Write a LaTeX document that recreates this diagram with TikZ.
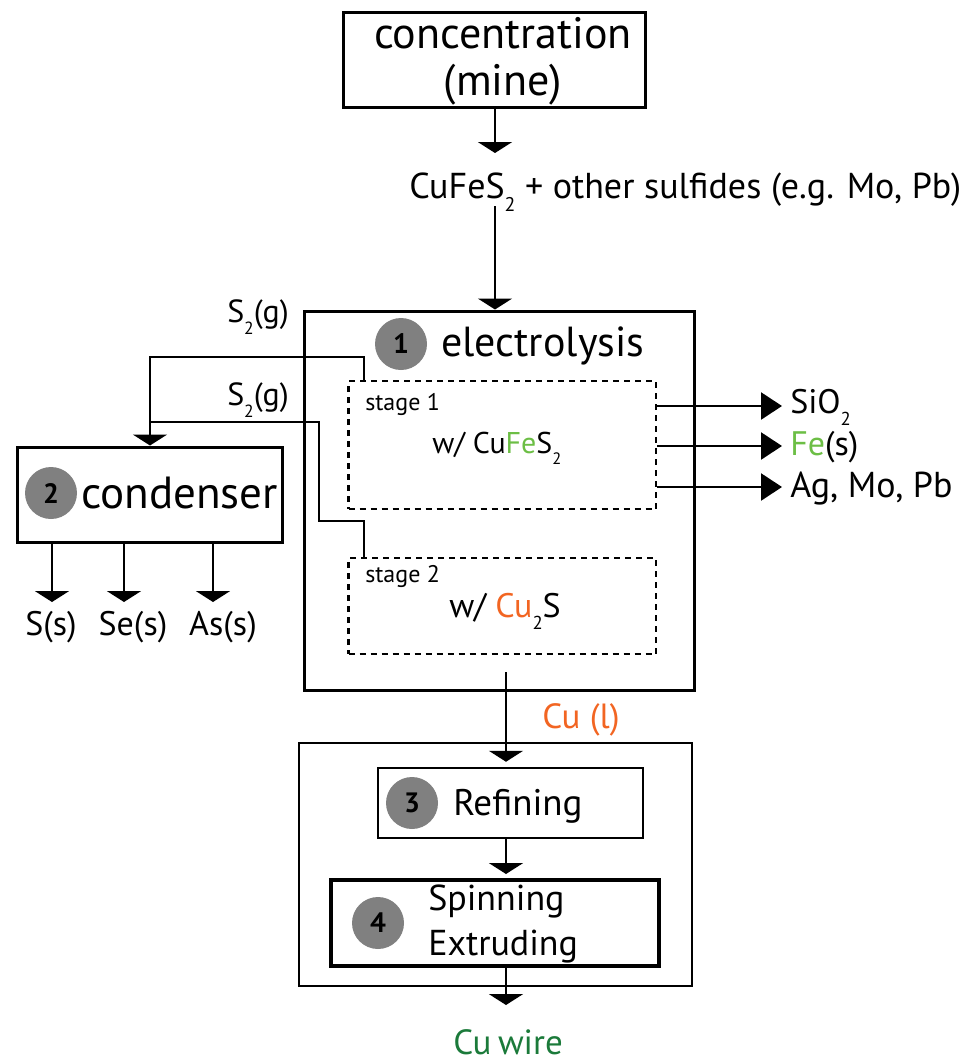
\documentclass[tikz,border=0pt]{standalone}
\usepackage{fontspec}
\setmainfont{PT Sans}
\usetikzlibrary{arrows.meta}
\definecolor{cuorange}{RGB}{242,101,34}
\definecolor{fegreen}{RGB}{108,190,69}
\definecolor{wiregreen}{RGB}{27,122,58}
\definecolor{badgegray}{RGB}{128,128,128}
\makeatletter
\newcommand\dn[1]{\raisebox{-0.38em}{\fontsize{\dimexpr\f@size pt*55/100\relax}{1pt}\selectfont #1}}
\makeatother
\newcommand\fsz[1]{\fontsize{#1}{#1}\selectfont}
\begin{document}
\begin{tikzpicture}[x=1pt,y=-1pt,line width=2.5pt,
  arr/.style={-{Triangle[width=34pt,length=11pt]}},
  arrR/.style={-{Triangle[width=27pt,length=21pt]}},
  boxnode/.style={draw,inner sep=0pt},
  dashbox/.style={draw,inner sep=0pt,line width=2.5pt,dash pattern=on 6pt off 5pt},
  badge/.style={circle,fill=badgegray,minimum size=52pt,inner sep=0pt,font=\fsz{28}\bfseries},
  txt/.style={inner sep=0pt,anchor=base west}]
\useasboundingbox (0,0) rectangle (974,1063);

% boxes
\node[boxnode,line width=3pt,minimum width=302pt,minimum height=95pt] (conc) at (494,59.5) {};
\node[boxnode,line width=3pt,minimum width=390pt,minimum height=379pt] (elec) at (499,500.5) {};
\node[dashbox,minimum width=307.5pt,minimum height=128pt] (stage1) at (502.25,445) {};
\node[dashbox,minimum width=307.5pt,minimum height=96pt] (stage2) at (502.25,606) {};
\node[boxnode,line width=3pt,minimum width=265pt,minimum height=95pt] (cond) at (150,494.5) {};
\node[boxnode,line width=2pt,minimum width=393pt,minimum height=243pt] (proc) at (495.5,864.5) {};
\node[boxnode,line width=2.5pt,minimum width=265pt,minimum height=70pt] (refine) at (510.5,803) {};
\node[boxnode,line width=4pt,minimum width=328pt,minimum height=86pt] (spin) at (495,923) {};

% badges
\node[badge] (n1) at (401,344) {1};
\node[badge] (n2) at (51,493) {2};
\node[badge] (n3) at (412,803) {3};
\node[badge] (n4) at (378,923) {4};

% texts
\node[inner sep=0pt,anchor=base,font=\fsz{44}] (conctxt) at (503,48) {concentration};
\node[inner sep=0pt,anchor=base,font=\fsz{44}] (minetxt) at (503,95) {(mine)};
\node[txt,font=\fsz{36}] (sulf) at (408,198) {CuFeS\dn{2} + other sulfides (e.g. Mo, Pb)};
\node[txt,font=\fsz{42}] (electxt) at (440,356) {electrolysis};
\node[txt,font=\fsz{24}] (st1) at (364,410) {stage 1};
\node[txt,font=\fsz{30}] (w1) at (431,453) {w/ Cu{\color{fegreen}Fe}S\dn{2}};
\node[txt,font=\fsz{24}] (st2) at (364,582) {stage 2};
\node[txt,font=\fsz{34}] (w2) at (448,617) {w/ {\color{cuorange}Cu}\dn{2}S};
\node[txt,font=\fsz{45}] (condtxt) at (80,508) {condenser};
\node[inner sep=0pt,anchor=base east,font=\fsz{32}] (s2a) at (290,322) {S\dn{2}(g)};
\node[inner sep=0pt,anchor=base east,font=\fsz{32}] (s2b) at (290,405) {S\dn{2}(g)};
\node[txt,font=\fsz{34}] (sio2) at (789,413) {SiO\dn{2}};
\node[txt,font=\fsz{34}] (fes) at (789,455) {{\color{fegreen}Fe}(s)};
\node[txt,font=\fsz{36}] (agmo) at (789,497) {Ag, Mo, Pb};
\node[inner sep=0pt,anchor=base,font=\fsz{34}] (ss) at (51,635) {S(s)};
\node[inner sep=0pt,anchor=base,font=\fsz{34}] (ses) at (133,635) {Se(s)};
\node[inner sep=0pt,anchor=base,font=\fsz{34}] (ass) at (223,635) {As(s)};
\node[txt,font=\fsz{35},text=cuorange] (cul) at (541,728) {Cu (l)};
\node[txt,font=\fsz{37}] (reftxt) at (452,815) {Refining};
\node[txt,font=\fsz{36}] (spintxt) at (427,910) {Spinning};
\node[txt,font=\fsz{36}] (extxt) at (427,955) {Extruding};
\node[txt,font=\fsz{35},text=wiregreen] (wire) at (452,1054) {Cu\hspace{-0.08em} wire};

% coordinates
\coordinate (a1) at (495,153);
\coordinate (a2) at (495,206);
\coordinate (t1) at (364,357);
\coordinate (t2) at (364,521);
\coordinate (t3) at (319,521);
\coordinate (j2) at (150,422);
\coordinate (o1) at (782,406);
\coordinate (o2) at (782,446);
\coordinate (o3) at (782,487);
\coordinate (c1) at (52,602);
\coordinate (c2) at (124,602);
\coordinate (c3) at (213,602);
\coordinate (b0) at (506,672);
\coordinate (b3) at (506,1005);

% connectors
\draw[arr] (conc.south -| a1) -- (a1);
\draw[arr] (a2) -- (elec.north -| a2);
\draw[arr] (stage1.north -| t1) -- (t1) -| (cond.north);
\draw (stage2.north -| t2) -- (t2) -- (t3) |- (j2);
\draw[arrR] (o1 -| stage1.east) -- (o1);
\draw[arrR] (o2 -| stage1.east) -- (o2);
\draw[arrR] (o3 -| stage1.east) -- (o3);
\draw[arr] (cond.south -| c1) -- (c1);
\draw[arr] (cond.south -| c2) -- (c2);
\draw[arr] (cond.south -| c3) -- (c3);
\draw[arr,shorten >=5pt] (b0) -- (refine.north -| b0);
\draw[arr,shorten >=4pt] (refine.south -| b0) -- (spin.north -| b0);
\draw[arr] (spin.south -| b0) -- (b3);
\end{tikzpicture}
\end{document}
